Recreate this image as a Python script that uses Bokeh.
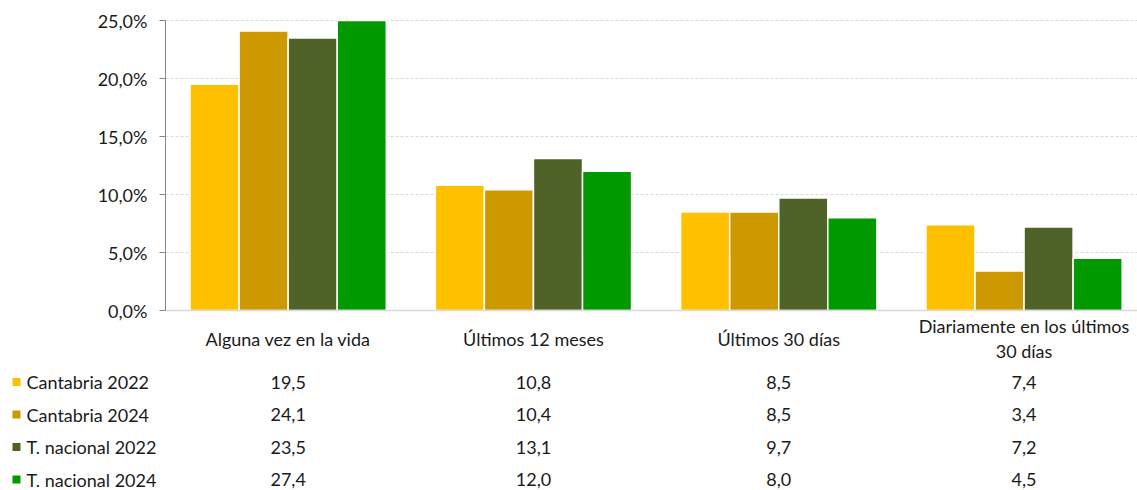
from bokeh.plotting import figure
from bokeh.models import Range1d, FixedTicker, CustomJSTickFormatter, ColumnDataSource
from bokeh.transform import dodge
from bokeh.core.properties import value
from bokeh.embed import file_html
from bokeh.resources import INLINE

categories = ["Alguna vez en la vida", "Últimos 12 meses", "Últimos 30 días",
              "Diariamente en los últimos\n30 días"]
series = ["Cantabria 2022", "Cantabria 2024", "T. nacional 2022", "T. nacional 2024"]
cantabria_2022 = [19.5, 10.8, 8.5, 7.4]
cantabria_2024 = [24.1, 10.4, 8.5, 3.4]
nacional_2022 = [23.5, 13.1, 9.7, 7.2]
nacional_2024 = [27.4, 12.0, 8.0, 4.5]
values_by_series = [cantabria_2022, cantabria_2024, nacional_2022, nacional_2024]
colors = ["#FFC000", "#CC9900", "#4F6228", "#009900"]
y_ticks = [0, 5, 10, 15, 20, 25]

FONT = "Lato"
FS = "18px"
TXT = "#1a1a1a"

# layout (pixels)
W, H = 1137, 490
AXIS_PX = 165        # x pixel of the value axis
BASE_PX = 310        # y pixel of 0 %
TOP_PX = 20          # y pixel of axis maximum
CAT_PX = 245.3       # width of one category
Y_MAX = y_ticks[-1]
PX_PER_UNIT = (BASE_PX - TOP_PX) / Y_MAX

def xd(px):
    return (px - AXIS_PX) / CAT_PX

def yd(py):
    return (BASE_PX - py) / PX_PER_UNIT

centers = [i + 0.5 for i in range(len(categories))]
x_end = xd(W)

p = figure(width=W, height=H, x_range=Range1d(xd(0), x_end),
           y_range=Range1d(yd(H), yd(0)), output_backend="svg", toolbar_location=None,
           x_axis_location=None, min_border=0)
p.outline_line_color = None
p.xgrid.grid_line_color = None
p.ygrid.grid_line_color = None

# value axis drawn at the start of the categories
ax = p.yaxis[0]
ax.fixed_location = 0
ax.bounds = (0, Y_MAX)
ax.ticker = FixedTicker(ticks=y_ticks)
ax.formatter = CustomJSTickFormatter(code="return tick.toFixed(1).replace('.', ',') + '%';")
ax.axis_line_color = "#868686"
ax.major_tick_line_color = "#868686"
ax.major_tick_out = 6
ax.major_tick_in = 0
ax.minor_tick_line_color = None
ax.major_label_text_font = FONT
ax.major_label_text_font_size = FS
ax.major_label_text_color = TXT
ax.major_label_standoff = 12

# dashed grid lines and base line
grid_ticks = [v for v in y_ticks if v > 0]
p.segment(x0=[0] * len(grid_ticks), x1=[x_end] * len(grid_ticks), y0=grid_ticks, y1=grid_ticks,
          line_color="#D9D9D9", line_dash="3 2", line_width=1)

offsets = [-0.3, -0.1, 0.1, 0.3]
for vals, col, off in zip(values_by_series, colors, offsets):
    src = ColumnDataSource(dict(x=centers, val=[min(v, Y_MAX) for v in vals]))
    p.vbar(x=dodge("x", off), top="val", bottom=0, width=0.2, source=src,
           fill_color=col, line_color="white", line_width=1.5)

p.segment(x0=[0], x1=[x_end], y0=[0], y1=[0], line_color="#D9D9D9", line_width=1.5)

# category labels
p.text(x=centers, y=[yd(338)] * len(categories), text=categories,
       text_font=value(FONT), text_font_size=FS, text_color=TXT,
       text_align="center", text_baseline="middle", text_line_height=1.15)

# data table with legend keys
row0, row_step = 381.5, 32.5
for i, (name, vals, col) in enumerate(zip(series, values_by_series, colors)):
    ry = yd(row0 + i * row_step)
    p.scatter(x=[xd(16)], y=[ry], marker="square", size=8, fill_color=col, line_color=None)
    p.text(x=[xd(26)], y=[ry], text=[name], text_font=value(FONT), text_font_size=FS,
           text_color=TXT, text_align="left", text_baseline="middle")
    p.text(x=centers, y=[ry] * len(vals), text=[f"{v:.1f}".replace(".", ",") for v in vals],
           text_font=value(FONT), text_font_size=FS, text_color=TXT,
           text_align="center", text_baseline="middle")

open("out.html", "w").write(file_html(p, INLINE))
